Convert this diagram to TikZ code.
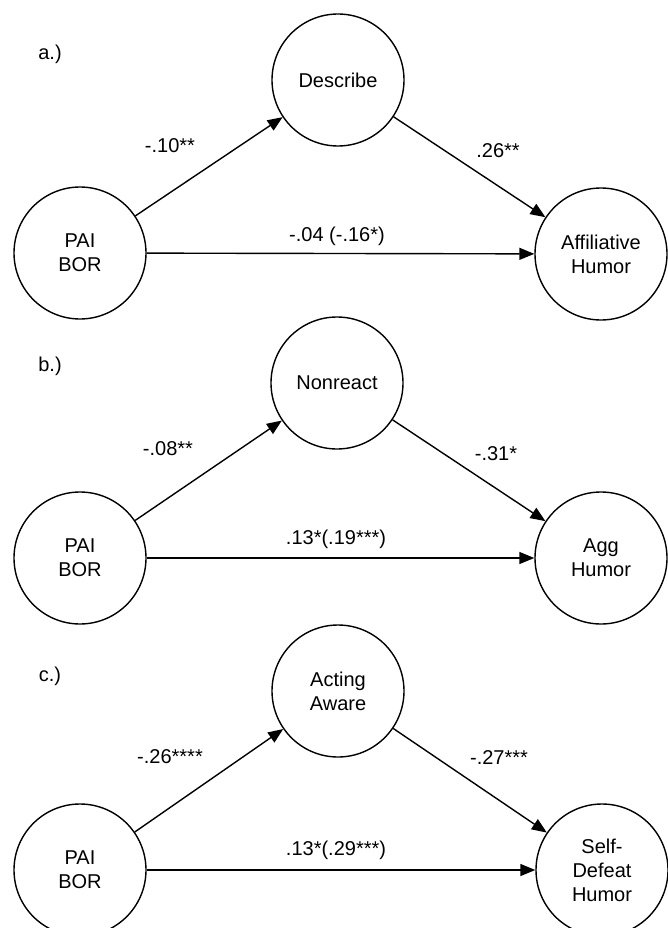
\documentclass[tikz,border=0pt]{standalone}
\usepackage{fontspec}
\setmainfont{Liberation Sans}
\usetikzlibrary{arrows.meta}
\begin{document}
\begin{tikzpicture}[x=1pt,y=-1pt,
  var/.style={circle,draw,line width=1.4pt,minimum size=132pt,inner sep=0pt,align=center,font=\fontsize{20}{24}\selectfont},
  lbl/.style={font=\fontsize{20}{24}\selectfont,inner sep=0pt},
  path/.style={line width=1.4pt,-{Triangle[length=15pt,width=12pt]}}]
\useasboundingbox (0,0) rectangle (667,928);
% panel a
\node[lbl] (la) at (50,54) {a.)};
\node[var] (a1) at (80,253) {PAI\\BOR};
\node[var] (a2) at (338,80) {Describe};
\node[var] (a3) at (601,254) {Affiliative\\Humor};
\draw[path] (a1) -- (a2);
\draw[path] (a2) -- (a3);
\draw[path] (a1) -- (a3);
\node[lbl] (ea1) at (170,146) {-.10**};
\node[lbl] (ea2) at (498,151) {.26**};
\node[lbl] (ea3) at (337,236) {-.04 (-.16*)};
% panel b
\node[lbl] (lb) at (50,366) {b.)};
\node[var] (b1) at (80,558) {PAI\\BOR};
\node[var] (b2) at (337,383) {Nonreact};
\node[var] (b3) at (601,558) {Agg\\Humor};
\draw[path] (b1) -- (b2);
\draw[path] (b2) -- (b3);
\draw[path] (b1) -- (b3);
\node[lbl] (eb1) at (168,449) {-.08**};
\node[lbl] (eb2) at (496,454) {-.31*};
\node[lbl] (eb3) at (336,539) {.13*(.19***)};
% panel c
\node[lbl] (lc) at (50,676) {c.)};
\node[var] (c1) at (80,870) {PAI\\BOR};
\node[var] (c2) at (338,691) {Acting\\Aware};
\node[var] (c3) at (602,870) {Self-\\Defeat\\Humor};
\draw[path] (c1) -- (c2);
\draw[path] (c2) -- (c3);
\draw[path] (c1) -- (c3);
\node[lbl] (ec1) at (170,757) {-.26****};
\node[lbl] (ec2) at (499,758) {-.27***};
\node[lbl] (ec3) at (336,850) {.13*(.29***)};
\end{tikzpicture}
\end{document}
